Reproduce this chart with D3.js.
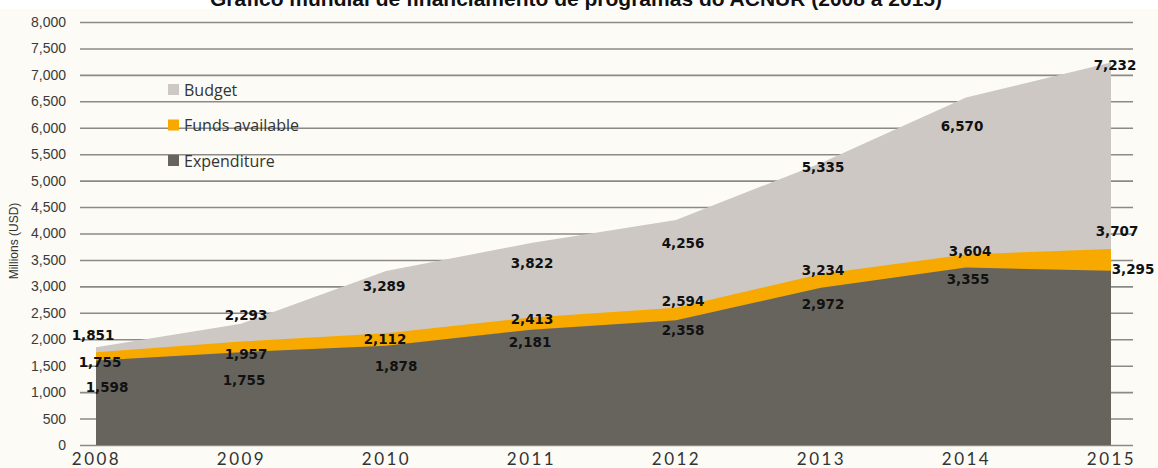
<!DOCTYPE html>
<html>
<head>
<meta charset="utf-8">
<script src="https://cdn.jsdelivr.net/npm/d3@7"></script>
<style>
  html, body { margin: 0; padding: 0; background: #ffffff; }
  svg { display: block; }
</style>
</head>
<body>
<svg id="mainsvg" width="1158" height="468"></svg>
<script>
// data
const years = ['2008', '2009', '2010', '2011', '2012', '2013', '2014', '2015'];
const budget = [1851, 2293, 3289, 3822, 4256, 5335, 6570, 7232];
const fundsAvailable = [1755, 1957, 2112, 2413, 2594, 3234, 3604, 3707];
const expenditure = [1598, 1755, 1878, 2181, 2358, 2972, 3355, 3295];
const yTicks = d3.range(0, 8001, 500);
const title = 'Gráfico mundial de financiamento de programas do ACNUR (2008 a 2015)';
const yAxisLabel = 'Millions (USD)';

// hand placed value labels in the original: nudge (px) from each data point
const budgetNudge = [[-3, -12], [5, -8], [-2, 15], [1, 20], [7, 23], [2, 4], [-4, 29], [4, 3]];
const fundsNudge = [[4, 10], [5, 13], [-1, 6], [1, 2], [7, -7], [2, -4], [4, -3], [6, -18]];
const expNudge = [[11, 27], [3, 28], [10, 21], [-1, 13], [7, 10], [2, 16], [2, 12], [22, -2]];

const series = [
    { name: 'Budget', values: budget, color: '#cdc8c3', nudge: budgetNudge },
    { name: 'Funds available', values: fundsAvailable, color: '#f7a900', nudge: fundsNudge },
    { name: 'Expenditure', values: expenditure, color: '#67645e', nudge: expNudge }
];

const svg = d3.select('#mainsvg');
const width = +svg.attr('width');
const height = +svg.attr('height');

// cream panel under the cut-off title
svg.append('rect')
    .attr('x', 0).attr('y', 9)
    .attr('width', width).attr('height', height - 9)
    .attr('fill', '#fcfbf5');

svg.append('text')
    .attr('x', 576).attr('y', 6)
    .attr('text-anchor', 'middle')
    .attr('font-family', 'Liberation Sans, Arial, sans-serif')
    .attr('font-weight', 'bold')
    .attr('font-size', '21px')
    .attr('fill', '#111')
    .text(title);

const xScale = d3.scalePoint().domain(years).range([96, 1111]);
const yScale = d3.scaleLinear().domain([0, 8000]).range([445, 22]);

// gridlines + tick labels
const yAxis = d3.axisLeft(yScale)
    .tickValues(yTicks)
    .tickFormat(d3.format(','))
    .tickSize(-(1133 - 80))
    .tickPadding(14);
const yAxisGroup = svg.append('g')
    .attr('transform', 'translate(80, 0)')
    .call(yAxis);
yAxisGroup.select('.domain').remove();
yAxisGroup.selectAll('.tick line')
    .attr('stroke', '#8c8a86')
    .attr('stroke-width', 1.6);
yAxisGroup.selectAll('.tick text')
    .attr('font-family', 'Liberation Sans, Arial, sans-serif')
    .attr('font-size', '14px')
    .attr('fill', '#3a3a3a');

svg.append('text')
    .attr('transform', 'translate(18, 241) rotate(-90)')
    .attr('text-anchor', 'middle')
    .attr('font-family', 'Liberation Sans Narrow, Liberation Sans, Arial, sans-serif')
    .attr('font-size', '12px')
    .attr('fill', '#333')
    .text(yAxisLabel);

// each area drawn from zero, bigger ones behind
const area = d3.area()
    .x((d, i) => xScale(years[i]))
    .y0(yScale(0))
    .y1(d => yScale(d));

svg.selectAll('.area')
    .data(series)
    .enter().append('path')
    .attr('class', 'area')
    .attr('d', d => area(d.values))
    .attr('fill', d => d.color);

// x axis
const xAxis = d3.axisBottom(xScale).tickSize(0).tickPadding(8);
const xAxisGroup = svg.append('g')
    .attr('transform', `translate(0, ${yScale(0)})`)
    .call(xAxis);
xAxisGroup.select('.domain').remove();
xAxisGroup.selectAll('.tick text')
    .attr('font-family', 'Lato, Liberation Sans, sans-serif')
    .attr('font-size', '17px')
    .attr('letter-spacing', '2.5px')
    .attr('fill', '#333');

// value labels
series.forEach(s => {
    svg.append('g').selectAll('text')
        .data(s.values)
        .enter().append('text')
        .attr('x', (d, i) => xScale(years[i]) + s.nudge[i][0])
        .attr('y', (d, i) => yScale(d) + s.nudge[i][1])
        .attr('dy', '0.35em')
        .attr('text-anchor', 'middle')
        .attr('font-family', 'DejaVu Sans, sans-serif')
        .attr('font-weight', 'bold')
        .attr('font-size', '13.5px')
        .attr('fill', '#111')
        .text(d => d3.format(',')(d));
});

// legend
const legend = svg.append('g').attr('transform', 'translate(168, 90)');
const legendItems = legend.selectAll('g')
    .data(series)
    .enter().append('g')
    .attr('transform', (d, i) => `translate(0, ${i * 35.5})`);
legendItems.append('rect')
    .attr('x', 0).attr('y', -6)
    .attr('width', 11).attr('height', 11)
    .attr('fill', d => d.color);
legendItems.append('text')
    .attr('x', 16).attr('y', 0)
    .attr('dy', '0.35em')
    .attr('font-family', 'Open Sans, Liberation Sans, sans-serif')
    .attr('font-size', '16px')
    .attr('fill', '#333')
    .text(d => d.name);
</script>
</body>
</html>
